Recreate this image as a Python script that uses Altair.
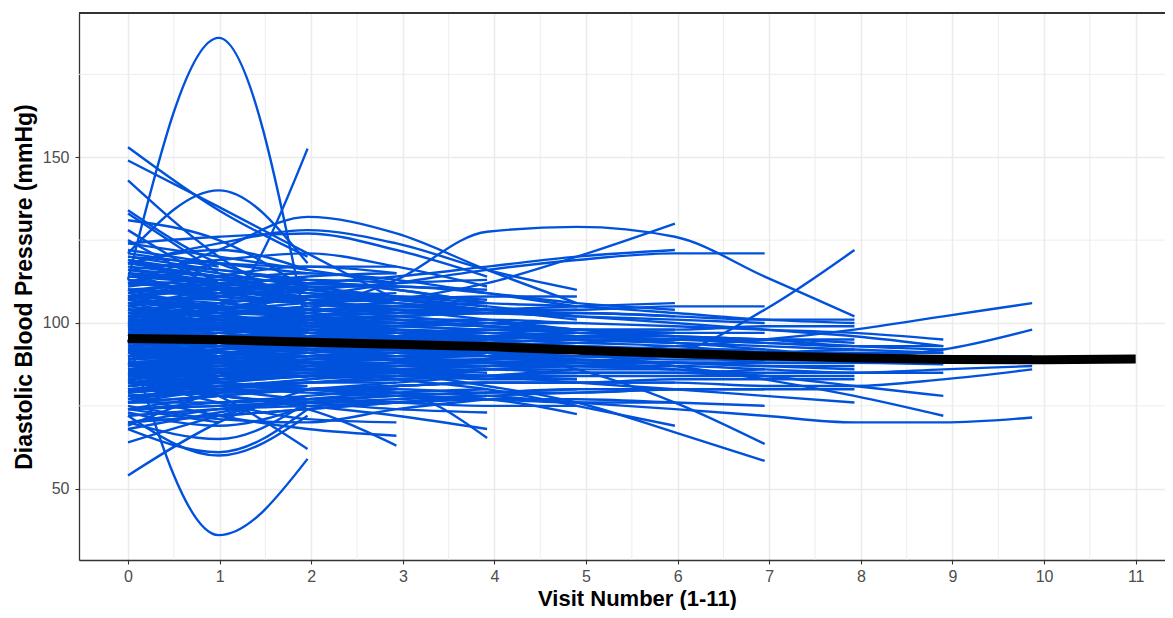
import altair as alt
import pandas as pd

# x position of each visit index for the individual subject curves
VISIT_X = [0, 0.99, 1.96, 2.93, 3.92, 4.9, 5.97, 6.95, 7.93, 8.9, 9.87]

# subjects grouped by number of visits (values are diastolic BP, mmHg)
SUBJ_V2 = [
    [125, 110], [133, 115], [69, 80], [98, 96], [86, 88], [110, 104], [92, 90],
    [80, 82], [104, 102], [116, 112], [76, 78], [95, 97], [88, 84], [100, 106], [84, 86],
    [90, 93], [102, 99], [79, 84], [113, 108], [94, 91], [87, 90], [106, 101], [82, 80],
    [97, 100], [118, 114], [108, 112], [121, 117], [74, 70], [99, 93], [112, 118],
]
SUBJ_V3 = [
    [113, 186, 97], [95, 36, 59], [100, 105, 152.6], [88, 78, 62], [121, 140, 118],
    [143, 120, 105], [153, 134, 120], [54, 70, 80], [134, 118, 112], [131, 125, 110],
    [64, 72, 78], [70, 65, 76], [68, 61, 74], [72, 60, 72], [128, 112, 100],
    [118, 122, 116], [100, 96, 98], [84, 86, 88], [110, 108, 106], [92, 94, 95],
    [78, 80, 82], [104, 103, 102], [88, 87, 86], [96, 98, 100], [114, 112, 110],
    [82, 84, 85], [106, 108, 111], [74, 78, 80], [90, 91, 92], [120, 116, 113],
    [86, 89, 91], [99, 101, 98], [108, 104, 103], [81, 83, 87], [93, 96, 97],
    [117, 114, 109], [77, 82, 84], [103, 100, 97], [89, 92, 96], [95, 93, 91],
    [111, 113, 107], [85, 82, 81], [101, 105, 104], [91, 88, 90], [122, 118, 115],
    [70, 74, 77], [73, 69, 75],
]
SUBJ_V4 = [
    [149, 135, 121, 107], [80, 78, 74, 63], [78, 72, 68, 66], [120, 118, 117, 117],
    [110, 112, 113, 112], [96, 97, 98, 98], [88, 88, 89, 89], [102, 101, 100, 99],
    [82, 83, 84, 85], [92, 91, 90, 90], [115, 112, 110, 108], [74, 76, 78, 80],
    [98, 100, 101, 102], [86, 85, 84, 84], [106, 104, 102, 100], [94, 95, 96, 97],
    [80, 81, 82, 82], [90, 92, 93, 94], [124, 120, 116, 112], [104, 106, 108, 109],
    [84, 86, 87, 88], [100, 98, 96, 94], [72, 74, 75, 76], [112, 110, 107, 104],
    [88, 90, 92, 92],
    [87, 90, 93, 95], [97, 94, 93, 92], [105, 103, 105, 106], [79, 81, 83, 86],
    [113, 109, 106, 103], [91, 93, 95, 96], [84, 88, 90, 92], [99, 102, 104, 103],
    [93, 90, 88, 87], [108, 111, 114, 115], [76, 80, 83, 84], [119, 115, 111, 108],
    [119, 111, 106, 104], [107, 114, 117, 115], [96, 104, 108, 107], [115, 107, 101, 98],
    [83, 76, 71, 70], [76, 84, 90, 91], [102, 109, 112, 111], [110, 103, 99, 97],
]
SUBJ_V5 = [
    [84, 82, 80, 79, 65.3], [80, 78, 75, 72, 68], [118, 116, 113, 110, 106],
    [124, 126, 127, 122, 114], [94, 95, 96, 96, 96], [86, 86, 86, 87, 87],
    [100, 99, 98, 97, 96], [78, 79, 80, 81, 82], [108, 107, 106, 105, 104],
    [90, 91, 92, 92, 92], [82, 83, 84, 84, 84], [96, 94, 92, 90, 88],
    [112, 110, 108, 106, 104], [74, 75, 76, 77, 78], [102, 103, 104, 105, 106],
    [88, 89, 90, 90, 90], [98, 100, 102, 103, 104], [84, 82, 80, 78, 77],
    [92, 93, 94, 95, 95], [106, 108, 110, 112, 113], [70, 72, 74, 76, 78],
    [116, 114, 112, 111, 110],
    [89, 91, 93, 94, 93], [101, 99, 97, 96, 95], [83, 85, 87, 88, 89],
    [95, 97, 99, 100, 101], [109, 105, 103, 101, 99], [77, 80, 82, 84, 86],
    [91, 89, 87, 86, 85], [103, 106, 108, 108, 107], [87, 90, 91, 93, 94],
    [97, 96, 95, 93, 91], [113, 111, 109, 107, 105], [81, 84, 86, 87, 88],
    [68, 73, 77, 79, 80], [75, 71, 70, 74, 77],
    [116, 119, 121, 117, 111], [105, 110, 112, 110, 106], [82, 78, 76, 74, 73],
    [94, 99, 102, 104, 104],
]
SUBJ_V6 = [
    [112, 122, 132, 127, 116, 106], [118, 124, 128, 124, 116, 110],
    [84, 82, 80, 78, 77, 72.5], [95, 96, 97, 97, 96, 95], [88, 87, 86, 85, 84, 83],
    [102, 103, 104, 104, 103, 102], [80, 81, 82, 83, 84, 84], [92, 91, 90, 89, 88, 88],
    [108, 106, 104, 102, 100, 98], [76, 78, 80, 82, 84, 86], [98, 99, 100, 100, 99, 98],
    [84, 86, 88, 90, 91, 92], [115, 113, 110, 107, 104, 101], [90, 92, 94, 95, 96, 96],
    [72, 74, 76, 78, 79, 80], [104, 100, 96, 93, 90, 88], [86, 85, 84, 84, 83, 83],
    [96, 98, 100, 102, 103, 104],
    [91, 93, 94, 95, 96, 97], [99, 97, 95, 94, 93, 92], [85, 87, 89, 90, 91, 91],
    [107, 105, 103, 101, 99, 97], [79, 82, 84, 86, 87, 88], [93, 95, 97, 99, 100, 100],
    [103, 104, 106, 107, 108, 108], [87, 86, 86, 87, 88, 89], [97, 99, 98, 97, 96, 96],
    [82, 85, 86, 88, 89, 90],
    [109, 113, 115, 113, 109, 105], [99, 104, 107, 107, 105, 102], [85, 80, 77, 76, 75, 75],
]
SUBJ_V7 = [
    [98, 100, 103, 107, 112, 120, 130], [108, 110, 112, 114, 117, 120, 122],
    [100, 101, 102, 103, 104, 105, 106], [90, 88, 86, 83, 80, 75, 69],
    [84, 84, 85, 85, 86, 86, 86], [96, 95, 94, 93, 92, 91, 90],
    [78, 79, 80, 81, 82, 82, 82], [104, 102, 100, 98, 96, 95, 94],
    [89, 90, 91, 92, 92, 92, 92], [112, 110, 107, 104, 101, 98, 96],
    [80, 80, 79, 78, 77, 76, 76], [94, 95, 96, 97, 98, 98, 98],
    [86, 87, 88, 88, 88, 87, 86], [70, 72, 74, 76, 78, 79, 80],
    [91, 92, 93, 94, 95, 96, 96], [101, 100, 99, 98, 97, 96, 95],
    [83, 85, 87, 88, 89, 90, 90], [97, 99, 101, 102, 103, 103, 102],
    [87, 89, 90, 91, 90, 89, 88], [107, 104, 102, 100, 99, 98, 97],
    [93, 94, 95, 96, 96, 97, 97], [81, 83, 84, 85, 86, 87, 87],
    [105, 109, 111, 111, 109, 106, 104],
]
SUBJ_V8 = [
    [100, 104, 108, 112, 116, 119, 121, 121], [100, 98, 96, 94, 91, 86, 76, 63.5],
    [92, 90, 88, 85, 81, 76, 67, 58.4], [86, 86, 85, 85, 84, 84, 84, 84],
    [93, 94, 95, 95, 94, 93, 92, 92], [82, 81, 80, 80, 79, 79, 80, 80],
    [110, 108, 106, 105, 104, 104, 105, 105], [97, 98, 99, 99, 98, 98, 97, 97],
    [74, 75, 76, 76, 77, 77, 76, 75], [102, 100, 98, 96, 94, 92, 90, 88],
    [91, 92, 93, 93, 93, 93, 92, 91], [99, 101, 102, 103, 103, 102, 101, 100],
    [85, 86, 87, 88, 89, 90, 90, 90], [95, 93, 92, 91, 91, 90, 89, 89],
    [79, 81, 82, 83, 84, 85, 85, 86], [103, 102, 101, 100, 99, 97, 96, 95],
]
SUBJ_V9 = [
    [96, 100, 104, 113, 127.5, 129, 126, 114, 102], [90, 92, 94, 93, 90, 88, 91, 104, 122],
    [106, 105, 104, 104, 103, 103, 102, 101, 101], [112, 110, 109, 108, 106, 105, 103, 101, 100],
    [94, 95, 96, 97, 97, 98, 98, 99, 99], [88, 88, 87, 86, 86, 85, 85, 84, 84],
    [92, 90, 88, 86, 84, 82, 80, 78, 76], [78, 79, 80, 81, 82, 82, 83, 83, 83],
    [99, 98, 97, 96, 95, 94, 93, 91, 90], [85, 87, 89, 91, 93, 94, 95, 95, 95],
    [76, 76, 77, 78, 79, 80, 80, 80, 80],
    [90, 91, 92, 92, 91, 90, 90, 91, 92], [96, 97, 98, 98, 97, 96, 95, 94, 93],
    [82, 83, 85, 86, 87, 88, 88, 87, 87], [100, 99, 98, 97, 96, 96, 95, 95, 94],
    [87, 87, 88, 89, 89, 89, 88, 87, 86],
]
SUBJ_V10 = [
    [98, 99, 100, 101, 101, 100, 99, 98, 97, 95], [90, 91, 92, 93, 94, 95, 95, 94, 93, 93],
    [104, 102, 100, 99, 98, 97, 96, 95, 93, 92], [86, 87, 88, 89, 90, 90, 90, 90, 90, 90],
    [95, 94, 93, 92, 91, 90, 90, 89, 89, 89], [80, 82, 84, 85, 86, 87, 88, 88, 88, 87.5],
    [96, 95, 94, 92, 90, 88, 86, 84, 81, 78], [104, 102, 100, 97, 94, 91, 87, 83, 78, 72],
    [110, 109, 108, 106, 104, 102, 100, 98, 96, 93],
    [93, 94, 94, 93, 92, 92, 91, 91, 91, 91], [99, 98, 97, 96, 96, 95, 94, 93, 92, 91],
    [84, 85, 86, 86, 87, 87, 87, 86, 85, 85],
]
SUBJ_V11 = [
    [92, 94, 96, 95, 93, 92, 93, 95, 98, 102, 106],
    [88, 90, 92, 93, 94, 95, 94, 92, 90, 92, 98],
    [100, 98, 96, 95, 94, 93, 92, 91, 90, 90, 90],
    [84, 85, 86, 87, 88, 88, 88, 88, 88, 88, 88],
    [92, 91, 90, 89, 88, 87, 86, 85, 85, 86, 87],
    [78, 79, 80, 81, 82, 82, 82, 81, 81, 83, 86],
    [84, 82, 80, 79, 78, 76, 74, 72, 70, 70, 71.5],
]

# overall mean trajectory
MEAN_VISIT = [0, 1, 2, 3, 4, 5, 6, 7, 8, 9, 10, 11]
MEAN_DBP = [95.3, 94.9, 94.2, 93.5, 92.8, 91.7, 90.8, 90.0, 89.4, 89.0, 88.9, 89.1]

X_TICKS = [0, 1, 2, 3, 4, 5, 6, 7, 8, 9, 10, 11]
X_MINOR = [0.5, 1.5, 2.5, 3.5, 4.5, 5.5, 6.5, 7.5, 8.5, 9.5, 10.5]
Y_TICKS = [50, 100, 150]
Y_MINOR = [75, 125, 175]

rows = []
sid = 0
for group in [SUBJ_V2, SUBJ_V3, SUBJ_V4, SUBJ_V5, SUBJ_V6, SUBJ_V7, SUBJ_V8,
              SUBJ_V9, SUBJ_V10, SUBJ_V11]:
    for vals in group:
        for i, v in enumerate(vals):
            rows.append({"id": sid, "visit": VISIT_X[i], "dbp": v})
        sid += 1
subj_df = pd.DataFrame(rows)
mean_df = pd.DataFrame({"visit": MEAN_VISIT, "dbp": MEAN_DBP})
xminor_df = pd.DataFrame({"visit": X_MINOR})
yminor_df = pd.DataFrame({"dbp": Y_MINOR})

W, H = 1086, 547
FONT = "Liberation Sans"
GRID = "#EBEBEB"
DARK = "#333333"

xscale = alt.Scale(domain=[-0.535, 11.32], nice=False, zero=False)
yscale = alt.Scale(domain=[28.5, 193.5], nice=False, zero=False)

XAX = alt.Axis(
    values=X_TICKS, title="Visit Number (1-11)", grid=True, gridColor=GRID, gridWidth=1.5,
    domainColor=DARK, domainWidth=1.3, tickColor=DARK, tickSize=4, tickWidth=1.1,
    labelColor="#4D4D4D", labelFontSize=16, labelFont=FONT, labelPadding=4,
    titleFont=FONT, titleFontSize=22, titleFontWeight="bold", titleColor="black",
    titleX=558, titleY=45, titleBaseline="alphabetic", titleAlign="center",
)
YAX = alt.Axis(
    values=Y_TICKS, title="Diastolic Blood Pressure (mmHg)", grid=True, gridColor=GRID,
    gridWidth=1.5, domainColor=DARK, domainWidth=1.3, tickColor=DARK, tickSize=4,
    tickWidth=1.1, labelColor="#4D4D4D", labelFontSize=16, labelFont=FONT, labelPadding=6,
    titleFont=FONT, titleFontSize=23, titleFontWeight="bold", titleColor="black",
    titleAngle=270, titleX=-43, titleY=H / 2, titleBaseline="bottom", titleAlign="center",
)

xminor = alt.Chart(xminor_df).mark_rule(color=GRID, strokeWidth=0.9).encode(
    x=alt.X("visit:Q", scale=xscale, axis=XAX)
)
yminor = alt.Chart(yminor_df).mark_rule(color=GRID, strokeWidth=0.9).encode(
    y=alt.Y("dbp:Q", scale=yscale, axis=YAX)
)

lines = alt.Chart(subj_df).mark_line(
    color="#0052DC", strokeWidth=2.4, interpolate="monotone", clip=True
).encode(
    x=alt.X("visit:Q", scale=xscale, axis=XAX),
    y=alt.Y("dbp:Q", scale=yscale, axis=YAX),
    detail="id:N",
)

mean_line = alt.Chart(mean_df).mark_line(color="black", strokeWidth=9, clip=True).encode(
    x=alt.X("visit:Q", scale=xscale, axis=XAX),
    y=alt.Y("dbp:Q", scale=yscale, axis=YAX),
)

top_border = alt.Chart(mean_df).mark_rule(color=DARK, strokeWidth=1.3).encode(
    x=alt.value(0), x2=alt.value(W), y=alt.value(0)
)

chart = alt.layer(xminor, yminor, lines, mean_line, top_border).properties(
    width=W, height=H,
    autosize=alt.AutoSizeParams(type="none"),
    padding={"left": 71, "top": 5, "right": 0, "bottom": 50},
).configure_view(stroke=None).configure(background="white")

chart.save("out.html", embed_options={"renderer": "svg", "actions": False})
